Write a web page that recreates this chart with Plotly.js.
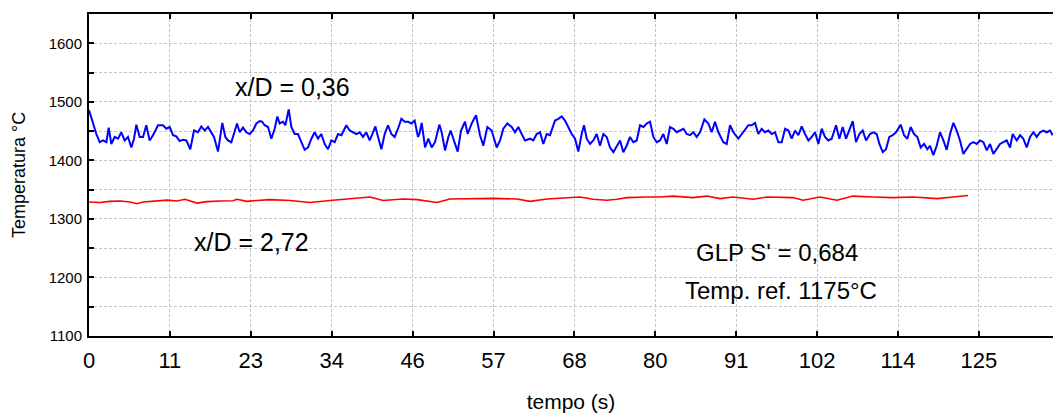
<!DOCTYPE html>
<html>
<head>
<meta charset="utf-8">
<script src="https://cdn.plot.ly/plotly-3.0.1.min.js"></script>
<style>html,body{margin:0;padding:0;background:#fff;}#chart{width:1053px;height:415px;}</style>
</head>
<body>
<div id="chart"></div>
<script>
// x tick positions (s) and their printed labels
const tickVals = [0, 11.38, 22.76, 34.14, 45.52, 56.9, 68.28, 79.66, 91.04, 102.42, 113.8, 125.18];
const tickLabels = ["0", "11", "23", "34", "46", "57", "68", "80", "91", "102", "114", "125"];
const yTickVals = [1100, 1200, 1300, 1400, 1500, 1600];
const yMinorVals = [1150, 1250, 1350, 1450, 1550, 1650];

// x/D = 0,36 (blue)
const blueTime = [
  0, 0.56, 1.03, 1.5, 1.97, 2.44, 2.77, 3.14, 3.61, 4.08,
  4.55, 5.02, 5.49, 5.95, 6.33, 6.66, 7.13, 7.6, 8.06, 8.53,
  9.0, 9.71, 10.41, 10.88, 11.35, 11.82, 12.28, 12.75, 13.22, 13.69,
  14.25, 14.77, 15.33, 15.8, 16.27, 16.74, 17.21, 17.58, 18.15, 18.75,
  19.18, 19.55, 20.02, 20.49, 20.82, 21.19, 21.66, 22.13, 22.6, 23.07,
  23.54, 24.01, 24.34, 24.71, 25.18, 25.65, 26.12, 26.49, 26.82, 27.29,
  27.62, 28.09, 28.46, 28.93, 29.4, 29.87, 30.34, 30.81, 31.28, 31.74,
  32.21, 32.68, 33.15, 33.62, 34.09, 34.56, 35.03, 35.5, 36.2, 36.67,
  37.14, 37.61, 38.07, 38.54, 39.01, 39.48, 39.95, 40.28, 40.66, 41.13,
  41.59, 42.06, 42.53, 43.0, 43.47, 43.94, 44.41, 44.87, 45.34, 45.81,
  46.28,
  46.47, 46.8, 47.27, 47.73, 48.2, 48.67, 49.28, 49.61, 50.08, 50.55,
  50.88, 51.25, 51.86, 52.33, 52.89, 53.27, 53.83, 54.44, 54.77, 55.0,
  55.47, 56.03, 56.64, 57.35, 57.82, 58.28, 58.85, 59.46, 59.93, 60.39,
  60.86, 61.33, 62.04, 62.5, 62.97, 63.44, 63.91, 64.38, 64.85, 65.55,
  66.02, 66.49, 66.96, 67.43, 67.9, 68.37, 68.83, 69.3, 69.63, 70.01,
  70.48, 70.94, 71.41, 71.88, 72.35, 72.82, 73.29, 73.76, 74.23, 74.7,
  75.16, 75.63, 76.1, 76.57, 77.04, 77.51, 77.98, 78.45, 78.92, 79.39,
  79.85, 80.32, 80.79, 81.26, 81.73, 82.2, 82.67, 83.14, 83.61, 84.07,
  84.54, 85.01, 85.48, 85.95, 86.56, 87.12, 87.59, 88.06, 88.53, 89.23,
  89.7, 90.17,
  90.64, 91.34, 91.81, 92.28, 92.75, 93.22, 93.69, 94.15, 94.62, 95.09,
  95.56, 96.03, 96.5, 96.97, 97.44, 97.91, 98.38, 98.84, 99.31, 99.78,
  100.25, 100.72, 101.19, 101.66, 102.13, 102.6, 103.06, 103.53, 104.0, 104.47,
  105.08, 105.55, 106.02, 106.49, 106.96, 107.43, 107.89, 108.36, 108.83, 109.3,
  109.86, 110.33, 110.8, 111.18, 111.65, 112.11, 112.58, 113.05, 113.52, 114.18,
  114.65, 115.11, 115.58, 116.05, 116.52, 116.99, 117.46, 117.93, 118.3, 118.77,
  119.24, 119.71, 120.18, 120.65, 121.12, 121.59, 122.05, 122.52, 122.99, 123.46,
  123.93, 124.4, 124.87, 125.34, 125.81, 126.28, 126.74, 127.21, 127.68, 128.15,
  128.62, 129.09, 129.56, 129.93, 130.5, 130.97, 131.43, 131.9, 132.37, 132.84,
  133.31, 133.78, 134.25, 134.72, 135.19, 135.56
];
const blueTemp = [
  1486, 1463, 1445, 1431, 1434, 1431, 1456, 1428, 1440, 1437,
  1448, 1434, 1440, 1422, 1437, 1461, 1440, 1440, 1460, 1434,
  1443, 1460, 1460, 1454, 1457, 1443, 1441, 1433, 1435, 1434,
  1419, 1451, 1448, 1458, 1451, 1457, 1448, 1440, 1415, 1464,
  1440, 1434, 1431, 1451, 1463, 1448, 1456, 1448, 1445, 1451,
  1463, 1467, 1466, 1460, 1457, 1437, 1454, 1475, 1463, 1466,
  1460, 1487, 1457, 1445, 1445, 1431, 1418, 1422, 1437, 1448,
  1437, 1445, 1428, 1419, 1434, 1431, 1445, 1443, 1460, 1451,
  1448, 1445, 1448, 1440, 1448, 1434, 1448, 1458, 1440, 1419,
  1445, 1460, 1445, 1440, 1454, 1471, 1466, 1466, 1463, 1468,
  1440,
  1445, 1464, 1422, 1437, 1422, 1431, 1461, 1448, 1417, 1440,
  1451, 1437, 1415, 1451, 1466, 1445, 1463, 1477, 1457, 1443,
  1425, 1457, 1451, 1422, 1434, 1454, 1463, 1457, 1448, 1457,
  1445, 1434, 1437, 1434, 1445, 1448, 1428, 1445, 1443, 1468,
  1471, 1475, 1468, 1457, 1445, 1437, 1415, 1445, 1460, 1437,
  1428, 1434, 1445, 1425, 1445, 1440, 1422, 1414, 1425, 1434,
  1414, 1425, 1440, 1431, 1434, 1460, 1457, 1463, 1466, 1440,
  1431, 1434, 1445, 1428, 1457, 1454, 1448, 1451, 1454, 1445,
  1443, 1448, 1440, 1448, 1470, 1463, 1448, 1466, 1448, 1431,
  1428, 1460,
  1448, 1437, 1445, 1454, 1460, 1460, 1464, 1445, 1454, 1448,
  1451, 1445, 1448, 1431, 1431, 1454, 1451, 1437, 1451, 1443,
  1458, 1445, 1434, 1440, 1448, 1428, 1454, 1440, 1434, 1437,
  1460, 1437, 1457, 1437, 1451, 1467, 1431, 1445, 1451, 1434,
  1445, 1448, 1445, 1428, 1414, 1419, 1440, 1443, 1448, 1461,
  1443, 1437, 1457, 1445, 1440, 1422, 1428, 1419, 1425, 1409,
  1425, 1448, 1434, 1418, 1445, 1464, 1451, 1434, 1411, 1419,
  1428, 1431, 1428, 1434, 1431, 1417, 1428, 1411, 1419, 1428,
  1431, 1434, 1422, 1445, 1434, 1443, 1437, 1422, 1440, 1448,
  1440, 1448, 1451, 1448, 1451, 1443
];

// x/D = 2,72 (red)
const redTime = [
  0, 1.55, 2.95, 4.36, 5.77, 6.75, 7.6, 9.0, 10.97, 12.38,
  13.5, 15.19, 16.6, 18.43, 20.26, 20.82, 22.23, 23.63, 25.46, 28.27,
  31.09, 33.9, 36.71, 39.53, 41.36, 44.17, 46.14, 48.95, 50.78, 53.59,
  56.83, 60.21, 62.04, 64.43, 69.07, 70.9, 72.87, 74.27, 75.68, 78.49,
  80.32, 82.15, 84.96, 86.93, 88.76, 90.59, 93.4, 95.37, 99.03, 100.44,
  102.83, 105.22, 107.47, 110.29, 113.1, 115.91, 119.29, 121.54, 123.65
];
const redTemp = [
  1329, 1328, 1330, 1330.5, 1329, 1326, 1329, 1330, 1332, 1330.5,
  1333.5, 1327, 1329.5, 1330.5, 1331, 1333.5, 1330, 1331.5, 1333, 1331.5,
  1328, 1331.5, 1334, 1337.5, 1331.5, 1334, 1333, 1328, 1334, 1335,
  1335, 1334, 1330, 1334, 1337.5, 1333.5, 1331.8, 1333.5, 1336.4, 1337.5,
  1337.5, 1339, 1336.4, 1339, 1334.7, 1337.5, 1333.5, 1337.5, 1336.4, 1331.8,
  1337.5, 1331.8, 1339, 1337.5, 1336.4, 1337.5, 1334.7, 1337.5, 1340
];

const FONT = 'Liberation Sans, Arial, Helvetica, sans-serif';
const gridColor = '#c4c4c4';

const traces = [
  {x: blueTime, y: blueTemp, type: 'scatter', mode: 'lines', name: 'x/D = 0,36',
   line: {color: '#0000ff', width: 2}},
  {x: redTime, y: redTemp, type: 'scatter', mode: 'lines', name: 'x/D = 2,72',
   line: {color: '#ff0000', width: 1.6}}
];

const layout = {
  width: 1053, height: 415,
  margin: {l: 89, r: 0, t: 14, b: 79},
  paper_bgcolor: '#ffffff', plot_bgcolor: '#ffffff',
  font: {family: FONT, color: '#000'},
  showlegend: false,
  xaxis: {
    range: [0, 135.6], tickmode: 'array', tickvals: tickVals, ticktext: tickLabels,
    ticks: 'inside', ticklen: 5, tickwidth: 2, tickcolor: '#000',
    showline: true, linecolor: '#000', linewidth: 2, mirror: 'ticks',
    showgrid: true, gridcolor: gridColor, griddash: '3px,2px', gridwidth: 1,
    zeroline: false, tickfont: {size: 22, family: FONT}, ticklabelstandoff: 4,
    title: {text: 'tempo (s)', font: {size: 21, family: FONT}, standoff: 22}
  },
  yaxis: {
    range: [1100, 1650], tickmode: 'array', tickvals: yTickVals,
    ticks: 'inside', ticklen: 5, tickwidth: 2, tickcolor: '#000',
    showline: true, linecolor: '#000', linewidth: 2, mirror: false,
    showgrid: true, gridcolor: gridColor, griddash: '3px,2px', gridwidth: 1,
    zeroline: false, tickfont: {size: 15, family: FONT}, ticklabelstandoff: 2,
    minor: {tickmode: 'array', tickvals: yMinorVals, ticks: 'inside', ticklen: 5, tickwidth: 2,
            tickcolor: '#000', showgrid: true, gridcolor: gridColor, griddash: '3px,2px', gridwidth: 1},
    title: {text: 'Temperatura °C', font: {size: 18, family: FONT}, standoff: 18}
  },
  annotations: [
    {x: 28.6, y: 1526, xref: 'x', yref: 'y', text: 'x/D = 0,36', showarrow: false,
     font: {size: 25, family: FONT, color: '#000'}},
    {x: 22.9, y: 1260, xref: 'x', yref: 'y', text: 'x/D = 2,72', showarrow: false,
     font: {size: 25, family: FONT, color: '#000'}},
    {x: 96.8, y: 1243, xref: 'x', yref: 'y', text: "GLP S' = 0,684", showarrow: false,
     font: {size: 24, family: FONT, color: '#000'}},
    {x: 97.3, y: 1178, xref: 'x', yref: 'y', text: 'Temp. ref. 1175°C', showarrow: false,
     font: {size: 24, family: FONT, color: '#000'}}
  ]
};

Plotly.newPlot('chart', traces, layout, {displayModeBar: false, staticPlot: true});
</script>
</body>
</html>
